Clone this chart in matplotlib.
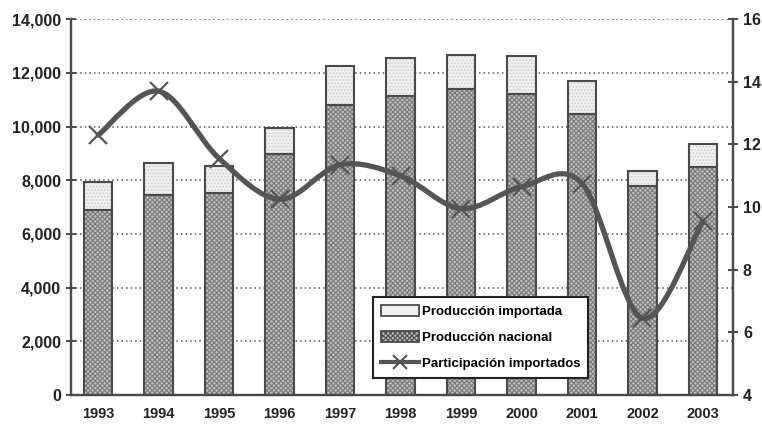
import matplotlib
matplotlib.use("Agg")
import matplotlib.pyplot as plt
from matplotlib.path import Path
from matplotlib.patches import PathPatch, Patch
from matplotlib.lines import Line2D
from matplotlib.ticker import FuncFormatter, MultipleLocator
import numpy as np

plt.rcParams['font.family'] = ['Liberation Sans Narrow', 'Liberation Sans', 'DejaVu Sans']
plt.rcParams['font.weight'] = 'bold'
plt.rcParams['hatch.linewidth'] = 0.8

years = ['1993', '1994', '1995', '1996', '1997', '1998', '1999', '2000', '2001', '2002', '2003']
total = [7950, 8640, 8530, 9950, 12250, 12570, 12650, 12630, 11700, 8350, 9360]
nacional = [6900, 7450, 7530, 8960, 10820, 11140, 11390, 11230, 10460, 7790, 8480]
participacion = [12.3, 13.7, 11.55, 10.25, 11.35, 11.0, 9.95, 10.65, 10.75, 6.45, 9.55]

importada = [t - n for t, n in zip(total, nacional)]
x = np.arange(len(years))

DARK = '#4a4a4a'
NAC_FACE = '#c0c0c0'
NAC_HATCH = '#7a7a7a'
IMP_FACE = '#f0f0f0'
fig = plt.figure(figsize=(7.62, 4.33), dpi=100)
ax = fig.add_axes([0.0932, 0.0878, 0.869, 0.868])
ax2 = ax.twinx()

w = 0.47
# hatched fills
ax.bar(x, nacional, w, color=NAC_FACE, edgecolor=NAC_HATCH, hatch='xxxxxxx', linewidth=0, zorder=2)
ax.bar(x, importada, w, bottom=nacional, color=IMP_FACE, edgecolor='#d0d0d0', hatch='.....', linewidth=0, zorder=2)
# outlines
ax.bar(x, nacional, w, fill=False, edgecolor=DARK, linewidth=1.5, zorder=3)
ax.bar(x, importada, w, bottom=nacional, fill=False, edgecolor=DARK, linewidth=1.5, zorder=3)

ax.set_ylim(0, 14000)
ax.set_xlim(-0.45, 10.5)
ax.yaxis.set_major_locator(MultipleLocator(2000))
ax.yaxis.set_major_formatter(FuncFormatter(lambda v, p: f'{int(v):,}'))
ax.set_xticks(x)
ax.set_xticklabels(years)
ax.grid(axis='y', color='#555555', linestyle=(0, (1, 2)), linewidth=1.1, zorder=0)
ax.set_axisbelow(True)

# smooth line through the data (Catmull-Rom as Bezier curves)
pts = np.column_stack([x, participacion]).astype(float)
ext = np.vstack([pts[0], pts, pts[-1]])
verts = [tuple(pts[0])]
codes = [Path.MOVETO]
for i in range(len(pts) - 1):
    p0, p1, p2, p3 = ext[i], ext[i + 1], ext[i + 2], ext[i + 3]
    c1 = p1 + (p2 - p0) / 6.0
    c2 = p2 - (p3 - p1) / 6.0
    verts += [tuple(c1), tuple(c2), tuple(p2)]
    codes += [Path.CURVE4] * 3
ax2.add_patch(PathPatch(Path(verts, codes), fill=False, edgecolor='#555555', linewidth=3.8, zorder=4,
                        capstyle='round', joinstyle='round'))
ax2.plot(x, participacion, linestyle='none', marker='x', markersize=13, markeredgewidth=1.6,
         color='#555555', zorder=5)
ax2.set_ylim(4, 16)
ax2.yaxis.set_major_locator(MultipleLocator(2))

for a in (ax, ax2):
    a.spines['top'].set_visible(False)
    for s in ('left', 'right', 'bottom'):
        a.spines[s].set_color(DARK)
        a.spines[s].set_linewidth(1.6)
ax.tick_params(axis='y', direction='inout', length=7, width=1.4, color=DARK, labelsize=11.5, labelcolor='#222222')
ax2.tick_params(axis='y', direction='inout', length=7, width=1.4, color=DARK, labelsize=11.5, labelcolor='#222222')
ax.tick_params(axis='x', length=0, labelsize=10.5, labelcolor='#222222', pad=9)

handles = [
    Patch(facecolor=IMP_FACE, edgecolor=DARK, linewidth=1.3, label='Producción importada'),
    Patch(facecolor=NAC_FACE, edgecolor=DARK, linewidth=1.3, hatch='xxxxxxx', label='Producción nacional'),
    Line2D([], [], color='#555555', linewidth=3, marker='x', markersize=10, markeredgewidth=1.6,
           label='Participación importados'),
]
leg = ax.legend(handles=handles, loc='lower left', bbox_to_anchor=(0.456, 0.045), fontsize=9.5,
                frameon=True, fancybox=False, edgecolor='#222222', framealpha=1,
                handlelength=2.9, handleheight=0.9, handletextpad=0.2, borderpad=0.6,
                labelspacing=1.0, borderaxespad=0)
leg.get_frame().set_linewidth(1.5)
leg.set_zorder(10)

fig.savefig('out.png', dpi=100)
